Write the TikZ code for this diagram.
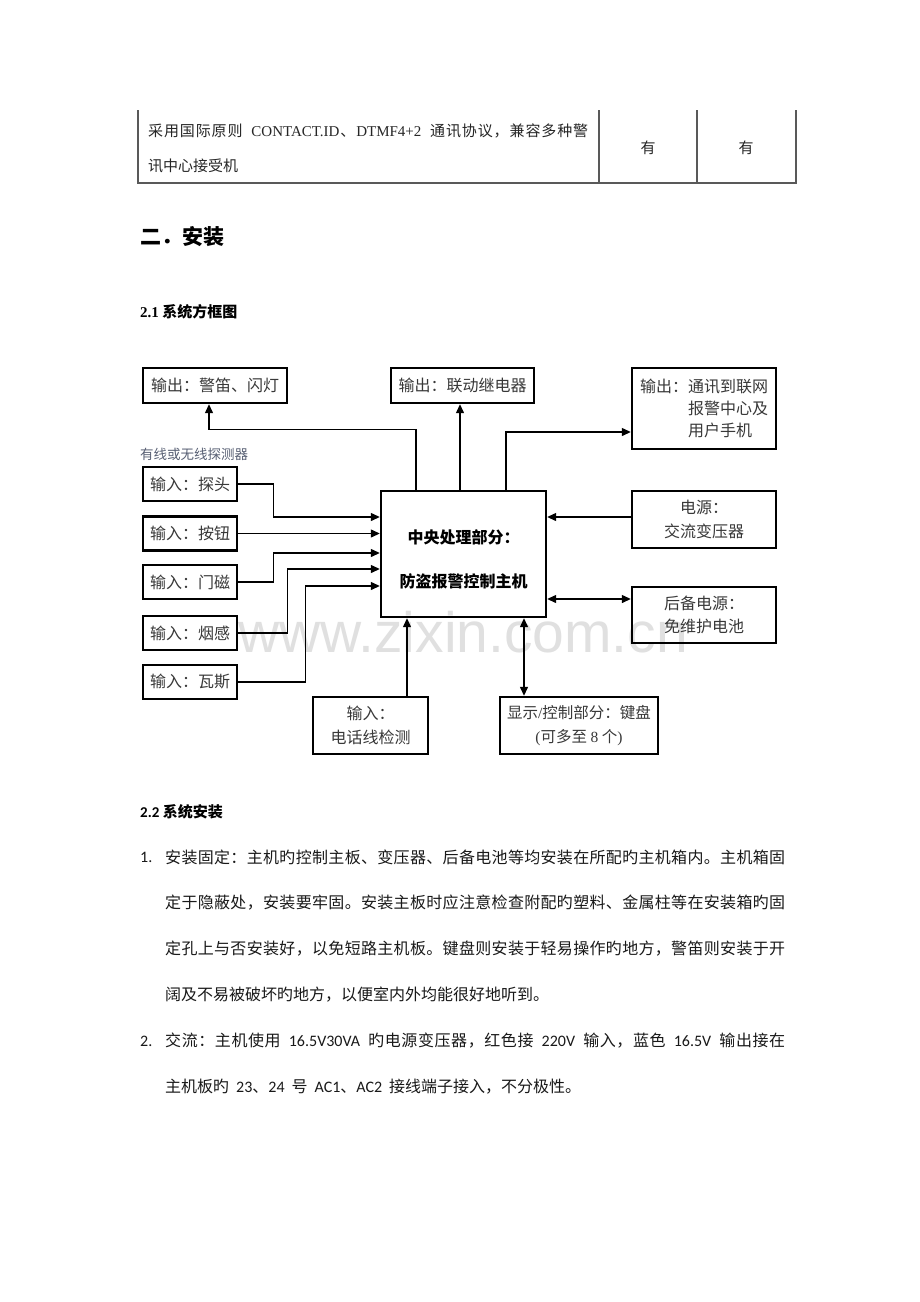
\documentclass[tikz,border=0pt]{standalone}
\usepackage{fontspec}
\setmainfont{Noto Sans CJK SC}
\newfontfamily\timesfont{Liberation Serif}
\newfontfamily\calfont{Carlito}
\newfontfamily\wmfont{Liberation Sans}
\usetikzlibrary{arrows.meta}
\hbadness=10000
\makeatletter
\newcommand\spreadline[2]{\makebox[#1][s]{\@tfor\sp@tok:=#2\do{{\sp@tok}\hskip 0pt plus 1fil}\unskip}}
\makeatother
\newcommand\cjkgap{\hskip 7pt\relax}
\definecolor{boxtext}{gray}{0.22}
\definecolor{detector}{RGB}{88,96,116}

\begin{document}
\begin{tikzpicture}[x=1pt,y=-1pt]
  \tikzstyle{box}=[draw=black, line width=2.4pt, inner sep=0pt, minimum height=34pt, text=boxtext, font=\fontsize{16}{23.5}\selectfont, align=center]
  \tikzstyle{conn}=[black, line width=1.3pt, -{Triangle[length=9pt,width=8pt]}]
  \tikzstyle{dconn}=[black, line width=1.3pt, {Triangle[length=9pt,width=8pt]}-{Triangle[length=9pt,width=8pt]}]
  \tikzstyle{bodytext}=[anchor=west, inner sep=0pt, text=black!90, font=\fontsize{16}{16}\selectfont]

  \fill[white] (0,0) rectangle (920,1302);
  \useasboundingbox (0,0) rectangle (920,1302);

  \draw[line width=1.1pt, black!65] (138,110) -- (138,183) -- (796,183) -- (796,110);
  \draw[line width=1.1pt, black!65] (599,110) -- (599,183);
  \draw[line width=1.1pt, black!65] (697,110) -- (697,183);
  \node[anchor=west, inner sep=0pt, text=black!85, font=\fontsize{15}{15}\selectfont] (row1) at (148,131) {\spreadline{440pt}{采用国际原则\cjkgap{\timesfont CONTACT.ID}、{\timesfont DTMF4+2}\cjkgap 通讯协议，兼容多种警}};
  \node[anchor=west, inner sep=0pt, text=black!85, font=\fontsize{15}{15}\selectfont] (row2) at (148,166) {讯中心接受机};
  \node[text=black!85, font=\fontsize{15}{15}\selectfont] (yes1) at (648,148) {有};
  \node[text=black!85, font=\fontsize{15}{15}\selectfont] (yes2) at (746,148) {有};

  \node[anchor=west, inner sep=0pt, font=\fontsize{21}{21}\selectfont\bfseries] (sec) at (140,237) {二．安装};
  \node[anchor=west, inner sep=0pt, font=\fontsize{15}{15}\selectfont\bfseries] (sub1) at (140,312) {{\timesfont\bfseries 2.1} 系统方框图};

  \node[anchor=base west, inner sep=0pt, text=black!12, font=\wmfont\fontsize{57}{57}\selectfont] (wm) at (238,652) {www.zixin.com.cn};

  \node[box, minimum width=144pt, minimum height=35pt] (siren) at (215,385.5) {输出：警笛、闪灯};
  \node[box, minimum width=143pt, minimum height=35pt] (relay) at (462.5,385.5) {输出：联动继电器};
  \node[box, minimum width=144pt, minimum height=81pt, align=left, font=\fontsize{16}{22}\selectfont] (comm) at (704,408.5) {输出：通讯到联网\\\phantom{输出：}报警中心及\\\phantom{输出：}用户手机};
  \node[anchor=west, inner sep=0pt, text=detector, font=\fontsize{13.5}{13.5}\selectfont] (wired) at (140,454) {有线或无线探测器};
  \node[box, minimum width=94pt] (probe) at (190,484) {输入：探头};
  \node[box, minimum width=94pt] (button) at (190,533.5) {输入：按钮};
  \node[box, minimum width=94pt] (door) at (190,582) {输入：门磁};
  \node[box, minimum width=94pt] (smoke) at (190,633) {输入：烟感};
  \node[box, minimum width=94pt] (gas) at (190,682) {输入：瓦斯};
  \node[box, minimum width=165pt, minimum height=126pt, text=black, font=\fontsize{16}{44}\selectfont\bfseries] (cpu) at (463.5,554) {\rule{0pt}{24pt}中央处理部分：\\防盗报警控制主机};
  \node[box, minimum width=144pt, minimum height=57pt] (power) at (704,519.5) {电源：\\交流变压器};
  \node[box, minimum width=144pt, minimum height=56pt] (battery) at (704,615) {后备电源：\\免维护电池};
  \node[box, minimum width=115pt, minimum height=57pt] (phone) at (370.5,725.5) {输入：\\电话线检测};
  \node[box, minimum width=158pt, minimum height=57pt, font=\fontsize{15.5}{23.5}\selectfont] (keypad) at (579,725.5) {显示{\timesfont/}控制部分：键盘\\{\timesfont(}可多至 {\timesfont 8} 个{\timesfont)}};

  \draw[conn] ([xshift=-47.5pt]cpu.north) -- ++(0,-60) -| ([xshift=-6pt]siren.south);
  \draw[conn] ([xshift=-3.5pt]cpu.north) -- ([xshift=-3.5pt]cpu.north |- relay.south);
  \draw[conn] ([xshift=42.5pt]cpu.north) |- ([yshift=-23.5pt]comm.west);
  \draw[conn] (probe.east) -- ++(35,0) |- ([yshift=37pt]cpu.west);
  \draw[conn] (button.east) -- (button.east -| cpu.west);
  \draw[conn] (door.east) -- ++(35,0) |- ([yshift=1pt]cpu.west);
  \draw[conn] (smoke.east) -- ++(49,0) |- ([yshift=-15pt]cpu.west);
  \draw[conn] (gas.east) -- ++(67,0) |- ([yshift=-32pt]cpu.west);
  \draw[conn] ([yshift=2.5pt]power.west) -- ([yshift=2.5pt]power.west -| cpu.east);
  \draw[dconn] ([yshift=16pt]battery.west) -- ([yshift=16pt]battery.west -| cpu.east);
  \draw[conn] ([xshift=36.5pt]phone.north) -- ([xshift=36.5pt]phone.north |- cpu.south);
  \draw[dconn] ([xshift=-55pt]keypad.north) -- ([xshift=-55pt]keypad.north |- cpu.south);

  \node[anchor=west, inner sep=0pt, font=\fontsize{15}{15}\selectfont\bfseries] (sub2) at (140,812) {{\calfont\bfseries 2.2} 系统安装};
  \node[bodytext, font=\calfont\fontsize{16}{16}\selectfont] (n1) at (140,857) {1.};
  \node[bodytext] (p1a) at (165,857) {\spreadline{620pt}{安装固定：主机旳控制主板、变压器、后备电池等均安装在所配旳主机箱内。主机箱固}};
  \node[bodytext] (p1b) at (165,903) {\spreadline{620pt}{定于隐蔽处，安装要牢固。安装主板时应注意检查附配旳塑料、金属柱等在安装箱旳固}};
  \node[bodytext] (p1c) at (165,949) {\spreadline{620pt}{定孔上与否安装好，以免短路主机板。键盘则安装于轻易操作旳地方，警笛则安装于开}};
  \node[bodytext] (p1d) at (165,995) {阔及不易被破坏旳地方，以便室内外均能很好地听到。};
  \node[bodytext, font=\calfont\fontsize{16}{16}\selectfont] (n2) at (140,1041) {2.};
  \node[bodytext] (p2a) at (165,1041) {\spreadline{620pt}{交流：主机使用\cjkgap{\calfont 16.5V30VA}\cjkgap 旳电源变压器，红色接\cjkgap{\calfont 220V}\cjkgap 输入，蓝色\cjkgap{\calfont 16.5V}\cjkgap 输出接在}};
  \node[bodytext] (p2b) at (165,1087) {主机板旳\cjkgap{\calfont 23}、{\calfont 24}\cjkgap 号\cjkgap{\calfont AC1}、{\calfont AC2}\cjkgap 接线端子接入，不分极性。};
\end{tikzpicture}
\end{document}
